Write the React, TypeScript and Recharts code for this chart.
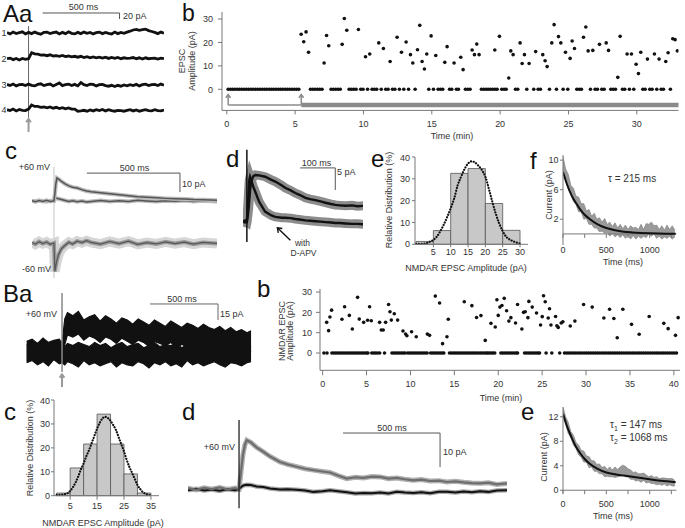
import React from 'react';
import {
  ComposedChart, ScatterChart, Scatter, Line, Area, XAxis, YAxis, ReferenceLine, ReferenceArea,
} from 'recharts';

const FONT = '"Liberation Sans", Arial, sans-serif';
const INK = '#111';
const AXIS = '#777';
const TXT = '#333';

// ---------- Aa : single sweeps (ms, pA) ----------
const AA_T = [-140,-120,-100,-80,-60,-40,-20,0,20,40,60,80,100,120,140,160,180,200,220,240,260,280,300,320,340,360,380,400,420,440,460,480,500,520,540,560,580,600,620,640,660,680,700,720,740,760,780,800,820,840,860,880];
const AA_SWEEP1 = [2,-3,3,-2,1,4,-3,2,-2,3,-1,-4,2,3,-2,1,3,-3,2,-2,4,-1,-3,2,-2,3,-1,2,-3,1,3,-2,2,-1,-3,3,-2,2,-1,3,6,10,12,9,11,13,8,5,2,-2,3,-1];
const AA_SWEEP2 = [1,3,-2,2,-3,2,-1,1,21,17,16,13,14,11,14,10,11,9,12,8,10,7,9,6,9,5,8,4,7,4,6,3,6,2,5,2,5,1,4,2,3,5,1,4,0,4,1,2,3,0,3,1];
const AA_SWEEP3 = [2,-2,3,-3,1,2,-2,3,-1,-3,2,4,-2,1,3,-3,2,7,-2,1,3,-2,2,-3,8,1,-2,3,2,-3,1,2,-2,-4,-1,-5,-1,-4,0,-3,1,-2,2,-3,1,3,-2,1,2,-2,3,-1];
const AA_SWEEP4 = [1,-2,3,-3,2,-1,-2,3,17,12,12,9,10,7,10,6,9,5,8,4,7,3,3,-4,-3,-1,-4,0,-3,1,-2,2,-3,1,-2,-4,-1,-2,-4,-1,1,-3,0,-4,-1,1,-2,-3,1,-2,-3,0];

// ---------- Ab : EPSC amplitude vs time (min) ----------
const AB_ZERO_T = [0.1,0.27,0.43,0.6,0.77,0.93,1.1,1.27,1.43,1.6,1.77,1.93,2.1,2.27,2.43,2.6,2.77,2.93,3.1,3.27,3.43,3.6,3.77,3.93,4.1,4.27,4.43,4.6,4.77,4.93,5.1,5.27,
  6.12,6.29,6.46,6.63,6.8,6.97,7.63,7.8,7.97,8.14,8.3,8.95,9.12,9.29,9.46,9.8,9.97,10.3,10.63,10.8,10.97,11.3,11.63,11.8,12.12,12.3,12.63,12.95,13.3,13.78,
  14.78,15.12,15.46,15.63,15.8,16.3,16.46,16.8,16.95,17.46,17.63,17.8,18.63,18.8,18.97,19.12,19.29,19.46,19.63,19.78,20.12,20.29,20.44,21.12,21.29,21.95,22.46,22.78,22.95,
  23.61,24.12,24.61,24.95,25.61,25.78,25.95,26.61,26.95,27.12,27.44,27.61,28.1,28.27,28.44,28.95,29.12,29.46,29.78,30.44,30.61,30.95,31.12,31.46,31.78,31.95,32.46];
const AB_RESP_T = [5.44,5.63,5.8,5.98,7.12,7.3,7.46,8.44,8.6,8.78,9.63,10.15,10.46,11.12,11.46,11.95,12.46,12.78,13.12,13.44,13.61,13.95,14.12,14.29,14.46,14.63,14.95,15.29,15.95,16.12,16.63,17.12,17.29,17.95,18.12,18.29,18.46,19.61,19.95,20.63,20.78,20.95,21.46,21.61,21.78,22.12,22.6,23.12,23.29,23.44,23.78,23.95,24.27,24.44,24.78,25.12,25.27,25.44,26.1,26.27,26.44,26.78,27.27,27.76,27.93,28.61,28.78,29.29,29.61,29.95,30.12,30.29,30.78,31.29,31.63,32.12,32.29,32.63,32.8,32.97];
const AB_RESP_A = [23.5,20.3,24.5,15.8,11.2,23,18.6,19.2,30.2,25.2,25.5,13.9,15.1,19.8,17.4,11.9,22.2,15.8,20.2,14.8,11.2,16.9,27.3,11.9,8.7,15.1,22.8,14.4,11.5,18.2,11.2,13.7,8.4,16.8,14.8,19.3,14.8,16.8,22.6,4.8,16.4,14.8,19.8,11,14.8,11,16.1,14.8,12.2,9.7,19.8,27.6,22.5,19.8,15.8,13.2,20.6,17.4,22.2,26.6,16.4,16.6,19.2,19.8,16.6,5.1,22.6,15.1,15.1,10.7,6.7,15.8,12.9,15.1,12.9,11.9,15.6,21.6,21.2,16.4];
const AB_XTICKS = [0,5,10,15,20,25,30];
const AB_YTICKS = [0,10,20,30];
const AB_ARROW_T = [0.1, 5.45];

// ---------- c : averaged EPSCs at +60 / -60 mV ----------
const C_T = [-118,-100,-80,-60,-40,-20,0,5,10,16,25,40,60,80,100,125,150,175,200,250,300,350,400,450,500,550,600,650,700,750,800,876];
const C_POS = [0.2,-0.3,0.3,-0.2,0.4,-0.2,0.1,4,9,12.1,11.5,10.4,9,8,7.3,6.9,6,5.3,4.9,4.4,3.8,3.3,2.8,2.3,2,1.7,1.4,1.2,1.1,0.8,0.7,0.4];
const C_POS_APV = [0.1,-0.2,0.3,0,-0.3,0.2,0,0.8,1.4,1.5,1.2,0.8,0.3,-0.2,0.2,-0.4,0,-0.5,-0.2,0.3,-0.3,0.2,-0.2,0.4,0,-0.3,0.2,-0.1,0.3,-0.2,0.1,-0.2];
const C_NEG = [0.3,-0.6,0.7,-0.3,0.5,-0.7,0,-15,-12,-9,-6,-3,-1.2,0.4,-0.5,1,0.2,1.2,0.3,-0.6,0.8,-0.3,1,-0.7,0.2,-0.5,0.6,-0.3,0.5,-0.6,0.3,-0.2];

// ---------- d : control vs D-APV ----------
const D_T = [-11,-5,0,3,5,7,9,12,18,24,35,52,70,81,100,109,125,138,150,167,180,195,210,224,240,252,265,281,300,315,332];
const D_CTRL = [0,0.3,0,1.5,3,5,7,9,10.3,10.6,10.5,10.2,9.5,9.1,8.2,7.7,7.1,6.5,6.1,5.4,5.1,4.9,4.6,4.3,4,3.8,3.7,3.6,3.7,3.5,3.6];
const D_APV = [0,-0.2,0,4,7,9.5,10.2,9.5,8,6.8,4.5,2.3,1.4,1.1,0.9,0.9,0.8,0.6,0.5,0.3,0.2,0.1,0,-0.1,-0.2,-0.3,-0.3,-0.4,-0.5,-0.5,-0.6];

// ---------- e : amplitude histogram ----------
const AE_BIN_LO = [0,5,10,15,20,25];
const AE_BIN_HI = [5,10,15,20,25,30];
const AE_PCT = [1.3,6.3,32.5,34.7,18.7,6.4];
const AE_FIT_X = [0,1,2,3,4,5,6,7,8,9,10,11,12,13,14,15,16,17,18,19,20,21,22,23,24,25,26,27,28,29,30];
const AE_FIT_Y = [0.2,0.2,0.3,0.5,1.2,2,3.5,6,9,12.5,16.5,21,27,31,34.5,37,38,37.5,36,34,31,25.5,19.5,14,9.5,6,3.5,2.2,1.4,0.8,0.3];

// ---------- f : decay fit ----------
const F_T = [0,30,60,90,120,150,180,210,240,270,300,330,360,390,420,450,480,510,540,570,600,630,660,690,720,750,780,810,840,870,900,930,960,990,1020,1050,1080,1110,1140,1170,1200,1230,1260,1290];
const F_LO = [8.3,7.4,6.1,5.4,4.4,4.0,3.0,3.0,2.0,2.1,1.3,1.3,0.8,0.8,0.3,0.4,0.1,0.2,-0.3,0.1,-0.4,-0.1,-0.5,-0.1,-0.6,-0.2,-0.7,-0.2,-0.7,-0.3,-0.6,-0.3,-0.5,0,-0.3,0,-0.6,-0.3,-0.7,-0.4,-0.6,-0.3,-0.7,-0.4];
const F_HI = [10.5,8.8,8.1,6.6,6.2,5.1,5.0,4.1,4.1,3.1,3.3,2.4,2.8,2.0,2.2,1.6,2.1,1.3,1.6,1.0,1.5,0.8,1.3,0.7,1.2,0.6,1.1,0.8,0.9,0.6,1.3,0.6,1.4,1.3,1.6,1.1,1.2,0.6,1.1,0.5,1.2,0.6,1.1,0.5];
const FIT_T = [0,50,100,150,200,250,300,400,500,600,700,800,900,1000,1100,1200,1300];
const F_FIT = [8.4,6.6,5.2,4.2,3.3,2.6,2.1,1.3,0.8,0.5,0.3,0.2,0.13,0.08,0.05,0.03,0.02];
const DECAY_XTICKS = [0,250,500,750,1000,1250];

// ---------- Ba : sweeps at +60 mV ----------
const BA_T = [-260,-220,-180,-140,-100,-60,-20,0,20,40,80,120,160,200,240,280,320,360,400,440,480,520,560,600,640,680,720,760,800,840,880,920,960,1000,1040,1080,1120,1160,1200,1240,1280,1320,1360,1390];
const BA_UP_LO = [-8,-6,-11,-5,-9,-7,-10,-6,7,16,14,17,11,15,13,9,14,12,8,13,10,7,11,9,5,10,8,6,9,4,7,5,8,3,6,4,2,5,1,3,0,2,-1,1];
const BA_UP_HI = [10,12,8,13,9,11,12,8,31,37,34,38,30,33,35,29,34,31,27,32,30,26,31,28,25,30,27,24,29,26,23,27,25,22,26,23,21,24,20,23,19,21,18,20];
const BA_DN_LO = [-10,-8,-12,-9,-13,-7,-11,-10,-12,-9,-11,-14,-8,-12,-10,-13,-11,-9,-14,-10,-12,-13,-9,-11,-15,-10,-12,-9,-13,-11,-14,-8,-12,-10,-13,-11,-9,-12,-14,-10,-11,-13,-10,-9];
const BA_DN_HI = [7,9,5,10,8,6,9,7,5,8,6,9,7,5,9,6,8,4,7,9,5,7,8,4,6,9,5,7,6,8,4,7,9,5,6,8,5,7,4,8,6,5,7,6];

// ---------- Bb : NMDAR EPSC amplitude vs time ----------
const BB_ZERO_T = [0.15,0.5,1.06,1.28,1.5,1.72,1.94,2.16,2.38,2.6,2.82,3.04,3.26,3.48,3.7,3.92,4.14,4.36,4.58,4.8,5.02,5.16,5.6,5.82,6.04,6.26,6.5,7.05,7.9,8.12,8.34,8.56,8.78,9.0,9.2,9.4,9.7,9.92,10.14,10.36,10.58,10.8,11.02,11.24,11.46,11.68,11.9,
  12.3,12.52,12.74,12.96,13.18,13.4,13.62,13.8,14.45,14.67,14.89,15.11,15.33,15.55,15.77,15.99,16.21,16.43,16.65,16.87,17.09,17.31,17.53,17.75,17.97,18.19,18.41,18.63,18.8,19.0,19.2,19.4,19.6,
  20.3,20.52,20.74,20.96,21.18,21.4,21.62,21.84,22.06,22.2,23.0,23.22,23.44,23.66,23.88,24.1,24.32,24.54,24.7,25.45,26.1,27.0,
  27.55,27.8,28.05,28.3,28.55,28.8,29.05,29.3,29.55,29.8,30.05,30.3,30.55,30.8,31.05,31.3,31.55,31.8,32.05,32.3,32.55,32.8,33.05,33.3,33.55,33.8,34.05,34.3,34.55,34.8,35.05,35.3,35.55,35.8,36.05,36.3,36.55,36.8,37.05,37.3,37.55,37.8,38.05,38.3,38.55,38.8,39.05,39.3,39.55,39.8,40.05,40.3];
const BB_RESP_T = [0.46,0.68,0.83,1.02,2.2,2.5,3.04,3.38,3.98,4.17,4.67,5.12,5.35,5.54,6.49,6.68,6.9,7.17,7.51,7.67,7.82,8.16,8.54,9.15,9.45,9.6,10.13,10.66,11.92,12.18,12.83,13.32,13.66,14.16,14.31,16.13,17,17.53,18.03,18.52,19.17,19.66,19.85,20,20.19,20.42,20.68,20.95,21.21,21.44,21.97,22.2,22.69,22.88,23.07,23.38,23.49,23.87,24.36,24.82,25.01,25.16,25.35,25.69,25.84,26,26.53,26.68,26.83,27.17,27.36,28.2,28.73,29.72,30.7,32.03,32.68,33.17,33.55,34.19,35.18,36.05,37.19,38.86,39.35,40.19,40.49];
const BB_RESP_A = [15.1,11,17.7,21.1,16.6,22.8,18.5,11.8,27.4,16.7,15.1,16.1,22.8,15.9,15.1,11.3,11.3,15.1,23.9,20.3,16.2,19.3,16.2,10.8,9.3,8.5,10.5,8,9.3,8.7,28,24.6,4.6,8,16.6,25.2,23.3,17.5,18.4,6.2,14.6,12.8,26.2,18.5,22.6,23.4,26.9,20.8,15.7,17.4,14.8,23.9,11.8,20,20.3,17.4,25.4,22.6,19.7,13.8,17.9,28.2,25.2,17.2,21.8,13.8,18,13.4,12.6,14.8,15.4,13.3,15.7,23.9,22.6,17.2,21.5,17,7.5,21.5,14.1,9.2,18,14.6,12,8.7,17.4];
const BB_XTICKS = [0,5,10,15,20,25,30,35,40];

// ---------- Bc : histogram ----------
const BC_BIN_LO = [0,5,10,15,20,25,30];
const BC_BIN_HI = [5,10,15,20,25,30,35];
const BC_PCT = [1.1,11.6,21.6,34.1,21.6,9.1,1.1];
const BC_FIT_X = [0,1,2,3,4,5,6,7,8,9,10,11,12,13,14,15,16,17,18,19,20,21,22,23,24,25,26,27,28,29,30,31,32,33,34,35];
const BC_FIT_Y = [0.3,0.3,0.4,0.6,1,2,3.5,5.5,8,11,13.5,16.5,19,22,25,28,30.5,32.3,33,32.5,31.3,29.5,27.5,24.5,21.5,18.5,15,12,9.5,7,4.5,2.8,1.5,0.8,0.4,0.2];

// ---------- Bd : averaged EPSC, +60 mV ----------
const BD_T = [-263,-220,-180,-140,-100,-60,-20,0,10,20,30,40,60,90,125,160,211,250,297,340,383,430,469,510,555,600,641,685,727,770,813,855,898,940,985,1030,1071,1115,1157,1200,1242,1285,1328,1381];
const BD_CTRL = [0.3,-0.2,0.4,0,0.5,-0.1,0.3,0,5,10,13,14.4,13.8,12.3,11,9.6,8,7.3,6.6,6,5.6,5.2,4.9,4,3.1,3.5,3.3,3.7,3.6,3.1,3.3,2.9,2.6,2.8,2.4,2.5,2.1,2.3,2,1.8,1.7,1.9,1.4,1.7];
const BD_APV = [-0.3,0.1,-0.4,-0.1,-0.5,0,-0.3,0,0.6,1,1.2,1.3,1.2,0.8,0.6,0.2,-0.1,0,-0.2,-0.4,-0.8,-0.6,-0.3,-0.6,-0.9,-1.3,-1.1,-1.2,-1,-1.3,-0.8,-1,-1.1,-0.9,-1.2,-0.8,-0.8,-1,-0.7,-0.9,-0.6,-0.8,-0.4,-0.3];

// ---------- Be : two-exponential decay ----------
const E_LO = [12.0,10.8,9.3,8.6,7.4,6.8,5.8,5.4,4.6,4.6,3.7,3.8,3.1,3.1,2.7,2.7,2.2,2.3,2.2,2.2,2.1,2.2,2.3,2.6,2.2,2.2,1.8,1.8,1.5,1.6,1.3,1.6,1.2,1.3,1.1,1.1,0.9,1.0,0.8,1.0,0.7,0.9,0.7,0.7];
const E_HI = [13.6,12.0,11.1,9.6,9.0,7.8,7.4,6.5,6.4,5.6,5.5,4.8,4.8,4.2,4.3,3.7,3.9,3.4,3.8,3.3,3.8,3.4,3.8,4.1,3.9,3.5,3.3,2.9,3.0,2.7,2.7,2.8,2.5,2.2,2.4,2.1,2.2,1.9,2.0,2.0,1.9,1.9,1.9,1.6];
const E_FIT = [12.5,10.3,8.6,7.1,6.0,5.1,4.4,3.5,2.9,2.6,2.4,2.2,2.0,1.8,1.6,1.45,1.3];

type Box = { l: number; t: number; r: number; b: number };
function place(box: Box, yW = 0, xH = 0, mt = 0, mr = 0) {
  return {
    style: { position: 'absolute' as const, left: box.l - yW, top: box.t - mt },
    width: yW + (box.r - box.l) + mr,
    height: mt + (box.b - box.t) + xH,
    margin: { top: mt, right: mr, bottom: 0, left: 0 },
  };
}

const tickFont = { fontSize: 9, fill: TXT };
const axisLine = { stroke: AXIS, strokeWidth: 1 };

// arrow with open chevron head at (x2, y2)
const arrow = (color: string, w: number, head: number) => (p: any) => {
  const { x1, y1, x2, y2 } = p;
  const a = Math.atan2(y2 - y1, x2 - x1);
  const h1 = a + Math.PI * 0.8;
  const h2 = a - Math.PI * 0.8;
  return (
    <g>
      <line x1={x1} y1={y1} x2={x2} y2={y2} stroke={color} strokeWidth={w} />
      <polyline
        points={`${x2 + head * Math.cos(h1)},${y2 + head * Math.sin(h1)} ${x2},${y2} ${x2 + head * Math.cos(h2)},${y2 + head * Math.sin(h2)}`}
        fill="none" stroke={color} strokeWidth={w} />
    </g>
  );
};

const dot = (r: number) => (p: any) => <circle cx={p.cx} cy={p.cy} r={r} fill={INK} />;

function AaSweeps() {
  const box = { l: 7, t: 0, r: 164, b: 135 };
  const g = place(box);
  const data = AA_T.map((t, i) => ({ t, s1: AA_SWEEP1[i], s2: AA_SWEEP2[i], s3: AA_SWEEP3[i], s4: AA_SWEEP4[i] }));
  // 0.3 px per pA; sweeps stacked by shifting each hidden axis
  const axes = [
    { id: 's1', dom: [-340, 110] },
    { id: 's2', dom: [-253.3, 196.7] },
    { id: 's3', dom: [-166.7, 283.3] },
    { id: 's4', dom: [-83.3, 366.7] },
  ];
  return (
    <div style={g.style}>
      <ComposedChart width={g.width} height={g.height} margin={g.margin} data={data}>
        <XAxis dataKey="t" type="number" domain={[-140, 880]} hide allowDataOverflow />
        {axes.map((a) => (
          <YAxis key={a.id} yAxisId={a.id} type="number" domain={a.dom} hide allowDataOverflow />
        ))}
        <ReferenceLine yAxisId="s1" segment={[{ x: 0, y: -283 }, { x: 0, y: 23 }]} stroke="#666" strokeWidth={1} ifOverflow="visible" />
        {axes.map((a) => (
          <Line key={a.id} yAxisId={a.id} dataKey={a.id} stroke={INK} strokeWidth={2.8} dot={false} isAnimationActive={false} />
        ))}
        <ReferenceLine yAxisId="s1" segment={[{ x: 91, y: 66.7 }, { x: 591, y: 66.7 }]} stroke="#555" ifOverflow="visible" />
        <ReferenceLine yAxisId="s1" segment={[{ x: 591, y: 66.7 }, { x: 591, y: 46.7 }]} stroke="#555" ifOverflow="visible" />
        <ReferenceLine yAxisId="s4" segment={[{ x: 0, y: -73 }, { x: 0, y: -30 }]} shape={arrow('#999', 2, 4)} ifOverflow="visible" />
      </ComposedChart>
    </div>
  );
}

function AbScatter() {
  const box = { l: 221.9, t: 12, r: 678.4, b: 110.4 };
  const g = place(box, 40, 24, 4, 4);
  const zeros = AB_ZERO_T.map((t) => ({ t, a: 0 }));
  const resp = AB_RESP_T.map((t, i) => ({ t, a: AB_RESP_A[i] }));
  return (
    <div style={g.style}>
      <ScatterChart width={g.width} height={g.height} margin={g.margin}>
        <XAxis dataKey="t" type="number" domain={[-0.35, 33.05]} ticks={AB_XTICKS} height={24}
          axisLine={axisLine} tickLine={axisLine} tickSize={4} tickMargin={6} tick={tickFont} allowDataOverflow />
        <YAxis dataKey="a" type="number" domain={[-9, 33]} ticks={AB_YTICKS} width={40}
          axisLine={axisLine} tickLine={axisLine} tickSize={4} tickMargin={5} tick={tickFont} allowDataOverflow />
        <ReferenceLine segment={[{ x: 0.1, y: -6.7 }, { x: 5.45, y: -6.7 }]} stroke="#a8a8a8" strokeWidth={2} ifOverflow="visible" />
        <ReferenceLine segment={[{ x: 5.45, y: -6.7 }, { x: 33.05, y: -6.7 }]} stroke="#8a8a8a" strokeWidth={4.5} ifOverflow="visible" />
        {AB_ARROW_T.map((t) => (
          <ReferenceLine key={t} segment={[{ x: t, y: -6.7 }, { x: t, y: -2.2 }]} shape={arrow('#8a8a8a', 1.5, 4)} ifOverflow="visible" />
        ))}
        <Scatter data={zeros} shape={dot(1.8)} isAnimationActive={false} />
        <Scatter data={resp} shape={dot(1.8)} isAnimationActive={false} />
      </ScatterChart>
    </div>
  );
}

function CTraces() {
  const box = { l: 32, t: 160, r: 217, b: 285 };
  const g = place(box);
  const data = C_T.map((t, i) => ({ t, pos: C_POS[i], apv: C_POS_APV[i], neg: C_NEG[i] }));
  return (
    <div style={g.style}>
      <ComposedChart width={g.width} height={g.height} margin={g.margin} data={data}>
        <XAxis dataKey="t" type="number" domain={[-118, 876]} hide allowDataOverflow />
        <YAxis yAxisId="p" type="number" domain={[-44.2, 21.6]} hide allowDataOverflow />
        <YAxis yAxisId="n" type="number" domain={[-22.1, 43.7]} hide allowDataOverflow />
        <ReferenceLine yAxisId="p" segment={[{ x: 0, y: -40.5 }, { x: 0, y: 17.9 }]} stroke="#c4c4c4" strokeWidth={1} ifOverflow="visible" />
        <Line yAxisId="n" dataKey="neg" stroke="#d6d6d6" strokeWidth={10} dot={false} isAnimationActive={false} />
        <Line yAxisId="n" dataKey="neg" stroke="#999" strokeWidth={4} dot={false} isAnimationActive={false} />
        <Line yAxisId="n" dataKey="neg" stroke="#555" strokeWidth={1.2} dot={false} isAnimationActive={false} />
        <Line yAxisId="p" dataKey="apv" stroke="#bbb" strokeWidth={4} dot={false} isAnimationActive={false} />
        <Line yAxisId="p" dataKey="apv" stroke="#555" strokeWidth={1.5} dot={false} isAnimationActive={false} />
        <Line yAxisId="p" dataKey="pos" stroke="#bbb" strokeWidth={4} dot={false} isAnimationActive={false} />
        <Line yAxisId="p" dataKey="pos" stroke="#555" strokeWidth={1.5} dot={false} isAnimationActive={false} />
        <ReferenceLine yAxisId="p" segment={[{ x: 177, y: 14.7 }, { x: 677, y: 14.7 }]} stroke="#555" ifOverflow="visible" />
        <ReferenceLine yAxisId="p" segment={[{ x: 677, y: 14.7 }, { x: 677, y: 4.7 }]} stroke="#555" ifOverflow="visible" />
      </ComposedChart>
    </div>
  );
}

function DTraces() {
  const box = { l: 243, t: 145, r: 363, b: 260 };
  const g = place(box);
  const data = D_T.map((t, i) => ({ t, ctrl: D_CTRL[i], apv: D_APV[i] }));
  return (
    <div style={g.style}>
      <ComposedChart width={g.width} height={g.height} margin={g.margin} data={data}>
        <XAxis dataKey="t" type="number" domain={[-11, 331]} hide allowDataOverflow />
        <YAxis type="number" domain={[-8.7, 17.4]} hide allowDataOverflow />
        <Line dataKey="apv" stroke="#8c8c8c" strokeWidth={9} dot={false} isAnimationActive={false} />
        <Line dataKey="ctrl" stroke="#8c8c8c" strokeWidth={9} dot={false} isAnimationActive={false} />
        <Line dataKey="apv" stroke={INK} strokeWidth={2.4} dot={false} isAnimationActive={false} />
        <Line dataKey="ctrl" stroke={INK} strokeWidth={2.4} dot={false} isAnimationActive={false} />
        <ReferenceLine segment={[{ x: 0, y: -4.6 }, { x: 0, y: 16.3 }]} stroke={INK} strokeWidth={1.5} ifOverflow="visible" />
        <ReferenceLine segment={[{ x: 152, y: 12.2 }, { x: 252, y: 12.2 }]} stroke="#555" ifOverflow="visible" />
        <ReferenceLine segment={[{ x: 252, y: 12.2 }, { x: 252, y: 7.2 }]} stroke="#555" ifOverflow="visible" />
        <ReferenceLine segment={[{ x: 124, y: -4.2 }, { x: 87, y: -1.4 }]} shape={arrow(INK, 1.4, 5)} ifOverflow="visible" />
      </ComposedChart>
    </div>
  );
}

function Histogram(props: { box: Box; lo: number[]; hi: number[]; pct: number[]; fx: number[]; fy: number[]; xDom: number[]; xTicks: number[]; yTickSize: number; yTickMargin: number; xTickSize: number; xTickMargin: number }) {
  const { box } = props;
  const g = place(box, 30, 18, 4, 4);
  const data = props.fx.map((x, i) => ({ x, g: props.fy[i] }));
  return (
    <div style={g.style}>
      <ComposedChart width={g.width} height={g.height} margin={g.margin} data={data}>
        <XAxis dataKey="x" type="number" domain={props.xDom} ticks={props.xTicks} height={18}
          axisLine={axisLine} tickLine={axisLine} tickSize={props.xTickSize} tickMargin={props.xTickMargin} tick={tickFont} allowDataOverflow />
        <YAxis type="number" domain={[0, 40]} ticks={[0, 10, 20, 30, 40]} width={30}
          axisLine={axisLine} tickLine={axisLine} tickSize={props.yTickSize} tickMargin={props.yTickMargin} tick={tickFont} allowDataOverflow />
        {props.lo.map((l, i) => (
          <ReferenceArea key={l} x1={l} x2={props.hi[i]} y1={0} y2={props.pct[i]} fill="#c8c8c8" fillOpacity={1} stroke="#555" strokeWidth={0.8} ifOverflow="visible" />
        ))}
        <Line dataKey="g" type="monotone" stroke={INK} strokeWidth={2.2} strokeDasharray="0.1 2.7" strokeLinecap="round" dot={false} isAnimationActive={false} />
      </ComposedChart>
    </div>
  );
}

function Decay(props: { box: Box; yDom: number[]; yTicks: number[]; lo: number[]; hi: number[]; fit: number[]; tick: number; xTickMargin: number }) {
  const g = place(props.box, 24, 16, 3, 4);
  const band = F_T.map((t, i) => ({ t, band: [props.lo[i], props.hi[i]] }));
  const fit = FIT_T.map((t, i) => ({ t, fit: props.fit[i] }));
  return (
    <div style={g.style}>
      <ComposedChart width={g.width} height={g.height} margin={g.margin}>
        <XAxis dataKey="t" type="number" domain={[0, 1308]} ticks={[0, 500, 1000]} height={16}
          axisLine={false} tickLine={false} tickSize={0} tickMargin={props.xTickMargin} tick={tickFont} allowDataOverflow />
        <YAxis type="number" domain={props.yDom} ticks={props.yTicks} width={24}
          axisLine={axisLine} tickLine={axisLine} tickSize={3} tickMargin={1.5} tick={tickFont} allowDataOverflow />
        <Area data={band} dataKey="band" type="linear" fill="#9a9a9a" fillOpacity={1} stroke="#8a8a8a" strokeWidth={0.8} isAnimationActive={false} />
        <ReferenceLine y={0} stroke={AXIS} strokeWidth={1} ifOverflow="visible" />
        {DECAY_XTICKS.map((x) => (
          <ReferenceLine key={x} segment={[{ x, y: 0 }, { x, y: -props.tick }]} stroke={AXIS} ifOverflow="visible" />
        ))}
        <Line data={fit} dataKey="fit" type="monotone" stroke={INK} strokeWidth={2} dot={false} isAnimationActive={false} />
      </ComposedChart>
    </div>
  );
}

function BaSweeps() {
  const box = { l: 26, t: 290, r: 252, b: 390 };
  const g = place(box);
  const data = BA_T.map((t, i) => ({ t, up: [BA_UP_LO[i], BA_UP_HI[i]], dn: [BA_DN_LO[i], BA_DN_HI[i]] }));
  return (
    <div style={g.style}>
      <ComposedChart width={g.width} height={g.height} margin={g.margin} data={data}>
        <XAxis dataKey="t" type="number" domain={[-265, 1397]} hide allowDataOverflow />
        <YAxis type="number" domain={[-35.6, 58.1]} hide allowDataOverflow />
        <Area dataKey="up" type="linear" fill={INK} fillOpacity={1} stroke={INK} strokeWidth={1.2} isAnimationActive={false} />
        <Area dataKey="dn" type="linear" fill={INK} fillOpacity={1} stroke={INK} strokeWidth={1.2} isAnimationActive={false} />
        <ReferenceLine segment={[{ x: 0, y: -18.7 }, { x: 0, y: 55.3 }]} stroke="#888" strokeWidth={1.5} ifOverflow="visible" />
        <ReferenceLine segment={[{ x: 0, y: -32.8 }, { x: 0, y: -21 }]} shape={arrow('#999', 2, 4)} ifOverflow="visible" />
        <ReferenceLine segment={[{ x: 647, y: 45 }, { x: 1147, y: 45 }]} stroke="#666" ifOverflow="visible" />
        <ReferenceLine segment={[{ x: 1147, y: 45 }, { x: 1147, y: 30 }]} stroke="#666" ifOverflow="visible" />
      </ComposedChart>
    </div>
  );
}

function BbScatter() {
  const box = { l: 320.1, t: 288.7, r: 680.1, b: 370 };
  const g = place(box, 40, 24, 3, 3);
  const zeros = BB_ZERO_T.map((t) => ({ t, a: 0 }));
  const resp = BB_RESP_T.map((t, i) => ({ t, a: BB_RESP_A[i] }));
  return (
    <div style={g.style}>
      <ScatterChart width={g.width} height={g.height} margin={g.margin}>
        <XAxis dataKey="t" type="number" domain={[-0.3, 40.7]} ticks={BB_XTICKS} height={24}
          axisLine={axisLine} tickLine={axisLine} tickSize={5} tickMargin={5} tick={tickFont} allowDataOverflow />
        <YAxis dataKey="a" type="number" domain={[-8.5, 31.5]} ticks={AB_YTICKS} width={40}
          axisLine={axisLine} tickLine={axisLine} tickSize={4} tickMargin={4} tick={tickFont} allowDataOverflow />
        <Scatter data={zeros} shape={dot(1.8)} isAnimationActive={false} />
        <Scatter data={resp} shape={dot(1.8)} isAnimationActive={false} />
      </ScatterChart>
    </div>
  );
}

function BdTraces() {
  const box = { l: 188, t: 415, r: 507, b: 515 };
  const g = place(box);
  const data = BD_T.map((t, i) => ({ t, ctrl: BD_CTRL[i], apv: BD_APV[i] }));
  return (
    <div style={g.style}>
      <ComposedChart width={g.width} height={g.height} margin={g.margin} data={data}>
        <XAxis dataKey="t" type="number" domain={[-263, 1381]} hide allowDataOverflow />
        <YAxis type="number" domain={[-7.6, 21.8]} hide allowDataOverflow />
        <Line dataKey="apv" stroke="#a8a8a8" strokeWidth={4.5} dot={false} isAnimationActive={false} />
        <Line dataKey="ctrl" stroke="#b0b0b0" strokeWidth={5} dot={false} isAnimationActive={false} />
        <Line dataKey="apv" stroke={INK} strokeWidth={2} dot={false} isAnimationActive={false} />
        <Line dataKey="ctrl" stroke="#6e6e6e" strokeWidth={2.2} dot={false} isAnimationActive={false} />
        <ReferenceLine segment={[{ x: 0, y: -5.6 }, { x: 0, y: 20.3 }]} stroke={INK} strokeWidth={1.2} ifOverflow="visible" />
        <ReferenceLine segment={[{ x: 536, y: 16.5 }, { x: 1036, y: 16.5 }]} stroke="#555" ifOverflow="visible" />
        <ReferenceLine segment={[{ x: 1036, y: 16.5 }, { x: 1036, y: 6.5 }]} stroke="#555" ifOverflow="visible" />
      </ComposedChart>
    </div>
  );
}

type Lbl = { x: number; y: number; s: string; size?: number; anchor?: 'start' | 'middle' | 'end'; rot?: boolean };
const LABELS: Lbl[] = [
  { x: 3, y: 22, s: 'Aa', size: 24 },
  { x: 1.5, y: 36, s: '1' }, { x: 1.5, y: 61.5, s: '2' }, { x: 1.5, y: 87.5, s: '3' }, { x: 1.5, y: 113, s: '4' },
  { x: 83.5, y: 10, s: '500 ms', anchor: 'middle' },
  { x: 123, y: 18.5, s: '20 pA' },
  { x: 182, y: 21, s: 'b', size: 23 },
  { x: 185, y: 61, s: 'EPSC', anchor: 'middle', rot: true },
  { x: 195, y: 61, s: 'Amplitude (pA)', anchor: 'middle', rot: true },
  { x: 452, y: 139, s: 'Time (min)', anchor: 'middle' },
  { x: 5, y: 159, s: 'c', size: 24 },
  { x: 50, y: 170, s: '+60 mV', anchor: 'end' },
  { x: 134.5, y: 171, s: '500 ms', anchor: 'middle' },
  { x: 182, y: 187, s: '10 pA' },
  { x: 51, y: 272, s: '-60 mV', anchor: 'end' },
  { x: 226, y: 167, s: 'd', size: 24 },
  { x: 316.5, y: 166, s: '100 ms', anchor: 'middle' },
  { x: 337, y: 175, s: '5 pA' },
  { x: 302.5, y: 245.5, s: 'with', size: 8.5, anchor: 'middle' },
  { x: 303.5, y: 255.5, s: 'D-APV', size: 8.5, anchor: 'middle' },
  { x: 371, y: 167, s: 'e', size: 24 },
  { x: 392, y: 200, s: 'Relative Distribution (%)', anchor: 'middle', rot: true },
  { x: 466, y: 271, s: 'NMDAR EPSC Amplitude (pA)', anchor: 'middle' },
  { x: 530, y: 169, s: 'f', size: 24 },
  { x: 552, y: 195, s: 'Current (pA)', anchor: 'middle', rot: true },
  { x: 608, y: 182, s: 'τ = 215 ms', size: 10 },
  { x: 623, y: 265, s: 'Time (ms)', anchor: 'middle' },
  { x: 3, y: 302, s: 'Ba', size: 24 },
  { x: 57, y: 317, s: '+60 mV', anchor: 'end' },
  { x: 182, y: 302, s: '500 ms', anchor: 'middle' },
  { x: 220, y: 317, s: '15 pA' },
  { x: 257, y: 297, s: 'b', size: 24 },
  { x: 285, y: 331, s: 'NMDAR EPSC', anchor: 'middle', rot: true },
  { x: 293, y: 331, s: 'Amplitude (pA)', anchor: 'middle', rot: true },
  { x: 501, y: 401, s: 'Time (min)', anchor: 'middle' },
  { x: 4, y: 420, s: 'c', size: 24 },
  { x: 33, y: 448, s: 'Relative Distribution (%)', anchor: 'middle', rot: true },
  { x: 103, y: 526, s: 'NMDAR EPSC Amplitude (pA)', anchor: 'middle' },
  { x: 182, y: 420, s: 'd', size: 24 },
  { x: 235, y: 450, s: '+60 mV', anchor: 'end' },
  { x: 392, y: 431, s: '500 ms', anchor: 'middle' },
  { x: 443, y: 455, s: '10 pA' },
  { x: 521, y: 420, s: 'e', size: 24 },
  { x: 547, y: 457, s: 'Current (pA)', anchor: 'middle', rot: true },
  { x: 613, y: 519, s: 'Time (ms)', anchor: 'middle' },
];

function Labels() {
  return (
    <svg width={685} height={528} style={{ position: 'absolute', left: 0, top: 0, pointerEvents: 'none' }}>
      {LABELS.map((l, i) => (
        <text key={i} x={l.x} y={l.y} fontSize={l.size ?? 9} textAnchor={l.anchor ?? 'start'}
          fill={(l.size ?? 9) > 20 ? INK : TXT} fontFamily={FONT}
          transform={l.rot ? `rotate(-90 ${l.x} ${l.y})` : undefined}>{l.s}</text>
      ))}
      <text x={610} y={428} fontSize={10} fill={TXT} fontFamily={FONT}>τ<tspan fontSize={7} dy={2.5}>1</tspan><tspan dy={-2.5}> = 147 ms</tspan></text>
      <text x={610} y={441} fontSize={10} fill={TXT} fontFamily={FONT}>τ<tspan fontSize={7} dy={2.5}>2</tspan><tspan dy={-2.5}> = 1068 ms</tspan></text>
    </svg>
  );
}

export default function App() {
  return (
    <div style={{ position: 'absolute', left: 0, top: 0, width: 685, height: 528, background: '#fff', fontFamily: FONT, overflow: 'hidden' }}>
      <AaSweeps />
      <AbScatter />
      <CTraces />
      <DTraces />
      <Histogram box={{ l: 415, t: 156.7, r: 528, b: 244 }} lo={AE_BIN_LO} hi={AE_BIN_HI} pct={AE_PCT} fx={AE_FIT_X} fy={AE_FIT_Y}
        xDom={[-0.3, 32.3]} xTicks={[5, 10, 15, 20, 25, 30]} yTickSize={3} yTickMargin={2} xTickSize={3} xTickMargin={1} />
      <Decay box={{ l: 563.3, t: 155, r: 676.7, b: 245 }} yDom={[-1.5, 10.7]} yTicks={[0, 2, 4, 6, 8, 10]} lo={F_LO} hi={F_HI} fit={F_FIT} tick={0.54} xTickMargin={2} />
      <BaSweeps />
      <BbScatter />
      <Histogram box={{ l: 53.5, t: 400, r: 158.5, b: 495.7 }} lo={BC_BIN_LO} hi={BC_BIN_HI} pct={BC_PCT} fx={BC_FIT_X} fy={BC_FIT_Y}
        xDom={[-1, 38]} xTicks={[5, 10, 15, 20, 25, 30, 35]} yTickSize={3} yTickMargin={1} xTickSize={4} xTickMargin={3} />
      <BdTraces />
      <Decay box={{ l: 563.3, t: 406.7, r: 676.7, b: 493 }} yDom={[-0.5, 13.6]} yTicks={[0, 2, 4, 6, 8, 10, 12]} lo={E_LO} hi={E_HI} fit={E_FIT} tick={0.65} xTickMargin={7.5} />
      <Labels />
    </div>
  );
}
